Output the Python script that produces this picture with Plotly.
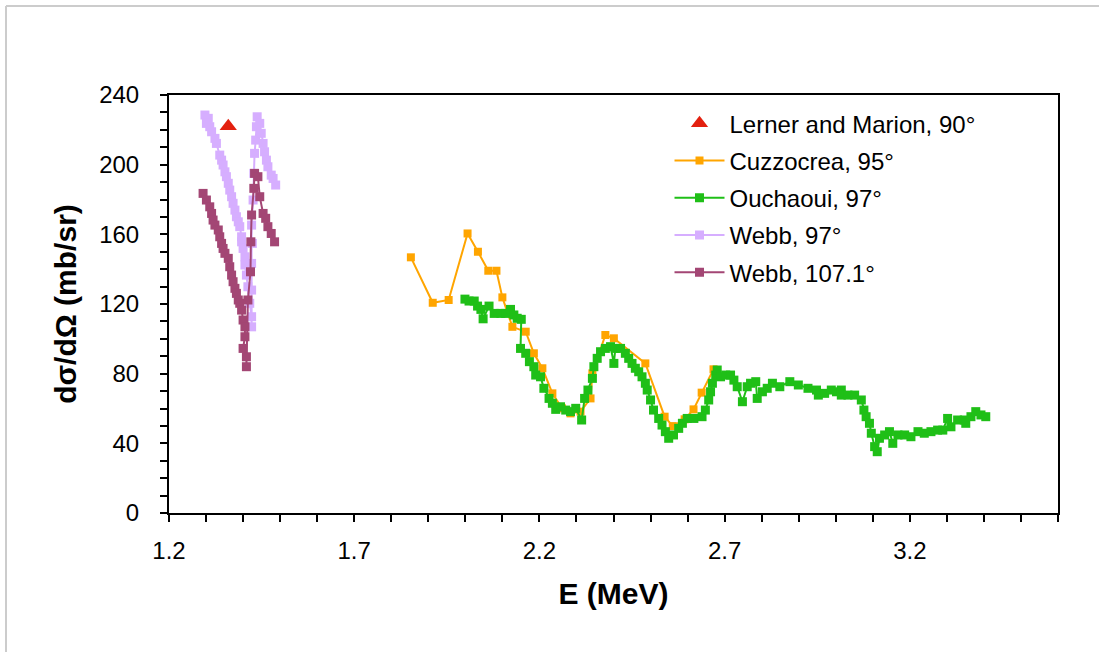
import plotly.graph_objects as go

# ---------------- data ----------------
lerner_E = [1.36]
lerner_v = [222.0]

cuzz_E = [1.853, 1.912, 1.955, 2.006, 2.034, 2.062, 2.084, 2.100, 2.127, 2.163, 2.185,
          2.208, 2.235, 2.261, 2.284, 2.311, 2.338, 2.343, 2.378, 2.401, 2.486, 2.538,
          2.560, 2.592, 2.616, 2.638, 2.670]
cuzz_v = [146.8, 120.7, 122.3, 160.5, 150.0, 139.1, 139.1, 123.8, 106.9, 104.1, 91.7,
          83.1, 68.7, 60.1, 57.2, 58.2, 65.8, 80.2, 102.2, 100.3, 85.9, 55.3,
          49.9, 53.8, 59.5, 69.1, 82.5]

ouch_E = [1.999, 2.010, 2.024, 2.033, 2.042, 2.048, 2.064, 2.078, 2.096, 2.109, 2.122,
          2.131, 2.140, 2.151, 2.149, 2.163, 2.173, 2.185, 2.190, 2.203, 2.212, 2.226,
          2.235, 2.244, 2.257, 2.271, 2.284, 2.298, 2.314, 2.322, 2.331, 2.343, 2.347,
          2.356, 2.365, 2.378, 2.392, 2.401, 2.405, 2.419, 2.432, 2.441, 2.450, 2.459,
          2.468, 2.477, 2.486, 2.491, 2.500, 2.508, 2.522, 2.531, 2.540, 2.549, 2.562,
          2.576, 2.586, 2.599, 2.617, 2.639, 2.648, 2.657, 2.662, 2.667, 2.676, 2.680,
          2.689, 2.703, 2.716, 2.725, 2.734, 2.748, 2.761, 2.770, 2.784, 2.788, 2.802,
          2.815, 2.829, 2.849, 2.876, 2.899, 2.925, 2.948, 2.953, 2.970, 2.988, 3.002,
          3.015, 3.015, 3.033, 3.051, 3.069, 3.076, 3.082, 3.091, 3.096, 3.105, 3.112,
          3.118, 3.132, 3.145, 3.154, 3.168, 3.186, 3.203, 3.222, 3.239, 3.257, 3.275,
          3.289, 3.302, 3.311, 3.329, 3.347, 3.351, 3.365, 3.378, 3.392, 3.405]
ouch_v = [122.8, 121.7, 121.7, 118.8, 116.9, 111.5, 118.8, 114.6, 114.6, 114.6, 116.9,
          113.7, 111.8, 111.2, 94.5, 91.7, 86.9, 84.0, 79.2, 78.2, 71.6, 65.8,
          63.0, 59.5, 61.0, 59.1, 58.2, 60.1, 53.4, 65.8, 70.6, 77.3, 84.0,
          88.8, 92.6, 94.5, 95.5, 85.9, 94.5, 94.5, 91.7, 88.8, 85.9, 83.1,
          81.1, 78.2, 74.5, 70.6, 64.9, 59.1, 54.3, 50.5, 46.7, 42.9, 44.8,
          48.6, 51.5, 54.3, 54.3, 55.3, 59.1, 64.9, 69.6, 74.5, 79.2, 82.1,
          78.2, 79.2, 79.2, 76.3, 72.5, 63.9, 72.5, 74.5, 75.4, 65.8, 69.6,
          71.6, 74.5, 72.5, 75.4, 73.5, 71.6, 70.6, 67.7, 68.7, 70.6, 69.6,
          70.6, 67.7, 67.7, 67.7, 64.9, 59.1, 55.3, 51.5, 45.8, 38.1, 35.2,
          42.9, 44.8, 46.7, 40.0, 44.8, 44.8, 43.8, 46.7, 45.8, 46.7, 47.6,
          47.6, 54.3, 49.5, 53.4, 53.4, 51.5, 55.3, 58.2, 56.3, 55.3]

webb97_E = [1.297, 1.306, 1.301, 1.310, 1.315, 1.324, 1.328, 1.337, 1.342, 1.346, 1.351,
            1.355, 1.360, 1.364, 1.369, 1.373, 1.378, 1.382, 1.387, 1.391, 1.396, 1.396,
            1.400, 1.405, 1.405, 1.409, 1.413, 1.418, 1.423, 1.423, 1.423, 1.423, 1.425,
            1.423, 1.427, 1.429, 1.431, 1.434, 1.436, 1.438, 1.445, 1.449, 1.454, 1.458,
            1.463, 1.467, 1.476, 1.481, 1.488]
webb97_v = [228.5, 226.6, 223.7, 221.8, 218.9, 215.1, 212.2, 205.5, 202.6, 199.8, 195.9,
            193.1, 189.3, 185.4, 181.6, 177.8, 173.9, 170.1, 167.2, 164.4, 158.6, 155.7,
            151.9, 147.1, 142.4, 136.6, 129.9, 120.4, 112.7, 106.9, 128.0, 143.3, 154.8,
            165.3, 179.7, 195.0, 206.5, 214.1, 221.8, 227.5, 223.7, 218.0, 212.2, 207.4,
            202.6, 198.8, 194.0, 192.1, 188.3]

webb107_E = [1.292, 1.301, 1.310, 1.315, 1.319, 1.324, 1.333, 1.337, 1.342, 1.346, 1.351,
             1.360, 1.364, 1.369, 1.373, 1.378, 1.382, 1.387, 1.391, 1.396, 1.400, 1.405,
             1.405, 1.400, 1.409, 1.409, 1.413, 1.420, 1.421, 1.423, 1.429, 1.431, 1.440,
             1.445, 1.454, 1.461, 1.467, 1.476, 1.485]
webb107_v = [183.5, 179.7, 175.8, 172.0, 168.2, 165.3, 162.5, 158.6, 154.8, 151.9, 149.1,
             146.2, 141.4, 136.6, 132.8, 129.0, 126.1, 122.3, 120.4, 116.5, 110.8, 106.9,
             101.2, 94.5, 89.7, 84.0, 122.3, 138.5, 155.7, 171.1, 186.4, 195.0, 193.1,
             181.6, 172.0, 169.2, 164.4, 160.5, 155.7]

x_tickvals = [1.2, 1.7, 2.2, 2.7, 3.2]
x_ticktext = ["1.2", "1.7", "2.2", "2.7", "3.2"]
y_tickvals = [0, 40, 80, 120, 160, 200, 240]
y_ticktext = ["0", "40", "80", "120", "160", "200", "240"]

# ---------------- figure ----------------
FONT = "Liberation Sans, Arial, sans-serif"

fig = go.Figure()
fig.add_trace(go.Scatter(x=lerner_E, y=lerner_v, mode="markers",
                         name="Lerner and Marion, 90°", legendgroup="a",
                         marker=dict(symbol="triangle-up", size=15, color="#E3200F")))
fig.add_trace(go.Scatter(x=cuzz_E, y=cuzz_v, mode="lines+markers", name="Cuzzocrea, 95°",
                         legendgroup="b",
                         line=dict(color="#FFA500", width=2),
                         marker=dict(symbol="square", size=8, color="#FFA500")))
fig.add_trace(go.Scatter(x=ouch_E, y=ouch_v, mode="lines+markers", name="Ouchaoui, 97°",
                         legendgroup="c",
                         line=dict(color="#1FBF17", width=2),
                         marker=dict(symbol="square", size=9, color="#1FBF17")))
fig.add_trace(go.Scatter(x=webb97_E, y=webb97_v, mode="lines+markers", name="Webb, 97°",
                         legendgroup="d",
                         line=dict(color="#D6AEFF", width=2),
                         marker=dict(symbol="square", size=9, color="#D6AEFF")))
fig.add_trace(go.Scatter(x=webb107_E, y=webb107_v, mode="lines+markers", name="Webb, 107.1°",
                         legendgroup="e",
                         line=dict(color="#A34674", width=2),
                         marker=dict(symbol="square", size=9, color="#A34674")))

axis_common = dict(showline=True, linecolor="black", linewidth=2, mirror=True,
                   showgrid=False, zeroline=False, ticks="outside", ticklen=7,
                   tickwidth=2, tickcolor="black",
                   tickfont=dict(family=FONT, size=24, color="black"))

fig.update_xaxes(range=[1.2, 3.6], tickmode="array", tickvals=x_tickvals,
                 ticktext=x_ticktext, ticklabelstandoff=8,
                 minor=dict(dtick=0.1, tick0=1.2, ticks="outside", ticklen=7,
                            tickwidth=2, tickcolor="black"),
                 title=dict(text="<b>E (MeV)</b>",
                            font=dict(family=FONT, size=30, color="black"), standoff=20),
                 **axis_common)
fig.update_yaxes(range=[0, 240], tickmode="array", tickvals=y_tickvals,
                 ticktext=y_ticktext, ticklabelstandoff=16,
                 minor=dict(dtick=10, tick0=0, ticks="outside", ticklen=7,
                            tickwidth=2, tickcolor="black"),
                 title=dict(text="<b>dσ/dΩ (mb/sr)</b>",
                            font=dict(family=FONT, size=30, color="black"), standoff=14),
                 **axis_common)

fig.update_layout(
    width=1099, height=652,
    margin=dict(l=169, r=41, t=95, b=139),
    paper_bgcolor="white", plot_bgcolor="white",
    font=dict(family=FONT, color="black"),
    legend=dict(x=0.563, y=0.985, xanchor="left", yanchor="top",
                font=dict(family=FONT, size=24, color="black"),
                traceorder="grouped", tracegroupgap=3,
                bgcolor="rgba(0,0,0,0)", itemwidth=50),
    shapes=[
        dict(type="line", xref="paper", yref="paper",
             x0=(6 - 169) / 889, x1=(1100 - 169) / 889,
             y0=(513 - 6) / 418, y1=(513 - 6) / 418,
             line=dict(color="#CCCCCC", width=2)),
        dict(type="line", xref="paper", yref="paper",
             x0=(6 - 169) / 889, x1=(6 - 169) / 889,
             y0=(513 - 6) / 418, y1=(513 - 660) / 418,
             line=dict(color="#CCCCCC", width=2)),
    ],
)

fig.write_html("out.html")
